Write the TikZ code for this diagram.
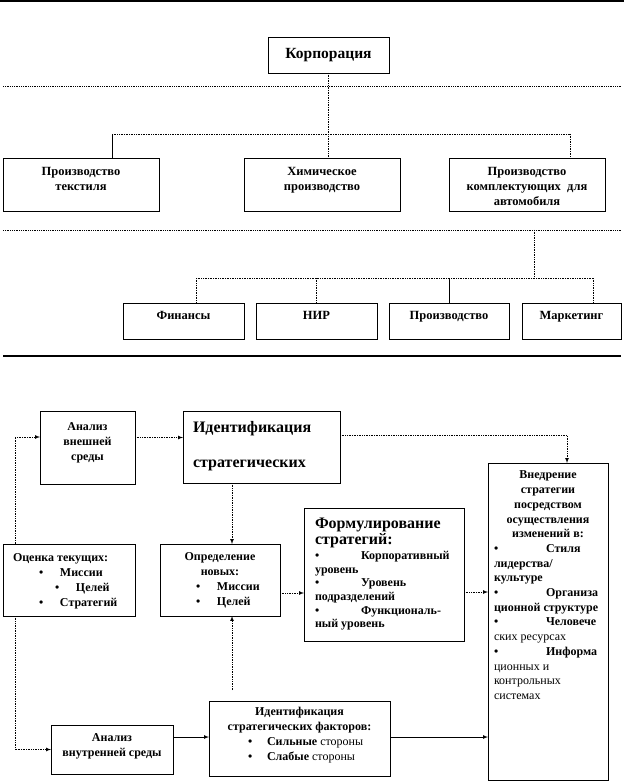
\documentclass[tikz,border=0pt]{standalone}
\usepackage{fontspec}
\setmainfont{Liberation Serif}
\usepackage{tikz}
\usetikzlibrary{shapes,arrows,calc}

% box text: height, width, alignment, top pad, lines
\newcommand{\celltext}[5]{\parbox[c][#1][t]{#2}{#3\vspace*{#4}\strut#5}}
\newcommand{\bul}[1]{\makebox[#1][l]{•}}

\begin{document}
\begin{tikzpicture}[y=1pt, x=1pt, yscale=-1, inner sep=0pt, outer sep=0pt, >=latex,
  unit/.style={draw=black, line width=0.8pt, rectangle, anchor=north west,
    font=\bfseries\fontsize{12.5}{15}\selectfont},
  stage/.style={draw=black, line width=0.8pt, rectangle, anchor=north west,
    font=\bfseries\fontsize{12}{14.7}\selectfont},
  dotlink/.style={draw=black, line width=0.7pt, densely dotted},
  solidlink/.style={draw=black, line width=0.7pt},
  rule/.style={draw=black, line width=0.8pt, densely dotted}]
\useasboundingbox (0,0) rectangle (624,783);

% separators
\path[draw=black, line width=1.6pt] (0,1) -- (624,1);
\path[rule] (3,86) -- (621,86);
\path[rule] (3,230) -- (621,230);
\path[draw=black, line width=1.2pt] (3,356) -- (621,356);

% corporation
\node[unit, minimum width=121pt, minimum height=36pt,
  font=\bfseries\fontsize{15.5}{17}\selectfont] (corp) at (268,37) {Корпорация};
\node[unit] (textile) at (3,158) {\celltext{53pt}{156pt}{\centering}{7.5pt}{Производство\\ текстиля}};
\node[unit] (chem) at (244,158) {\celltext{53pt}{156pt}{\centering}{7.5pt}{Химическое\\ производство}};
\node[unit] (auto) at (449,158) {\celltext{53pt}{156pt}{\centering}{7.5pt}{Производство\\ комплектующих \ для\\ автомобиля}};

\path[dotlink] (corp.south) -- (corp.south |- chem.north);
\coordinate (tapL) at (112,134);
\coordinate (tapR) at (570,134);
\path[dotlink] (tapL) -- (tapR);
\path[solidlink] (tapL) -- (tapL |- textile.north);
\path[dotlink] (tapR) -- (tapR |- auto.north);

% functions
\node[unit] (fin) at (123,303) {\celltext{36pt}{121pt}{\centering}{5.5pt}{Финансы}};
\node[unit] (nir) at (256,303) {\celltext{36pt}{121pt}{\centering}{5.5pt}{НИР}};
\node[unit] (prod) at (389,303) {\celltext{36pt}{120pt}{\centering}{5.5pt}{Производство}};
\node[unit] (mark) at (522,303) {\celltext{36pt}{99pt}{\centering}{5.5pt}{Маркетинг}};

\coordinate (drop) at (534,230);
\coordinate (tapF) at (196,278);
\coordinate (tapM) at (593,278);
\path[dotlink] (drop) -- (drop |- tapF);
\path[dotlink] (tapF) -- (tapM);
\path[dotlink] (tapF) -- (tapF |- fin.north);
\path[dotlink] (nir.north |- tapF) -- (nir.north);
\path[solidlink] (prod.north |- tapF) -- (prod.north);
\path[dotlink] (tapM) -- (tapM |- mark.north);

% strategy process
\node[stage, font=\bfseries\fontsize{12}{15}\selectfont] (extA) at (40,411)
  {\celltext{73pt}{95pt}{\centering}{8.5pt}{Анализ\\ внешней\\ среды}};
\node[stage, inner xsep=10pt, font=\bfseries\fontsize{16}{17.5}\selectfont] (identA) at (183,411)
  {\celltext{72pt}{137pt}{\raggedright}{9.7pt}{Идентификация\\[17.5pt] стратегических}};
\node[stage, inner xsep=10pt] (evalC) at (3,544)
  {\celltext{72pt}{112pt}{\raggedright}{7.7pt}{Оценка текущих:\\
   \hspace*{26pt}\bul{21pt}Миссии\\ \hspace*{42pt}\bul{21pt}Целей\\ \hspace*{26pt}\bul{21pt}Стратегий}};
\node[stage] (defN) at (160,544)
  {\celltext{72pt}{120pt}{\centering}{6.7pt}{Определение\\ новых:\par\raggedright
   \hspace*{36pt}\bul{21pt}Миссии\\ \hspace*{36pt}\bul{21pt}Целей}};
\node[stage, inner xsep=11pt, font=\bfseries\fontsize{16}{16}\selectfont] (form) at (304,508)
  {\celltext{133pt}{138pt}{\raggedright}{8.8pt}{Формулирование\\ стратегий:\par
   \vspace{2pt}\fontsize{12}{13.6}\selectfont
   \bul{46pt}Корпоративный\\ уровень\\ \bul{46pt}Уровень\\ подразделений\\
   \bul{46pt}Функциональ-\\ ный уровень}};
\node[stage, inner xsep=6pt] (impl) at (488,463)
  {\celltext{317pt}{108pt}{\centering}{5.7pt}{Внедрение\\ стратегии\\ посредством\\
   осуществления\\ изменений в:\par\raggedright
   \bul{52pt}Стиля\\ лидерства/\\ культуре\\ \bul{52pt}Организа\\ ционной структуре\\
   \bul{52pt}Человече\\ {\mdseries ских ресурсах}\\ \bul{52pt}Информа\\
   {\mdseries ционных и\\ контрольных\\ системах}}};
\node[stage] (intA) at (51,725)
  {\celltext{49pt}{122pt}{\centering}{6.7pt}{Анализ\\ внутренней среды}};
\node[stage] (factors) at (209,701)
  {\celltext{75pt}{181pt}{\centering}{4.7pt}{Идентификация\\ стратегических факторов:\par\raggedright
   \hspace*{39pt}\bul{19pt}Сильные {\mdseries стороны}\\ \hspace*{39pt}\bul{19pt}Слабые {\mdseries стороны}}};

\path[dotlink,->] ($(extA.east)+(0,-10)$) coordinate (p0) -- (p0 -| identA.west);
\path[dotlink,->] ($(identA.east)+(0,-12)$) -| ($(impl.north)+(19,0)$);
\path[dotlink,->] ($(identA.south)+(-29.5,0)$) coordinate (p2) -- (p2 |- defN.north);
\path[dotlink,->] ($(defN.east)+(0,13)$) coordinate (p3) -- (p3 -| form.west);
\path[dotlink,->] ($(form.east)+(0,17.5)$) coordinate (p4) -- (p4 -| impl.west);
\path[dotlink,->] ($(factors.north)+(-67.5,-11)$) coordinate (p5) -- (p5 |- defN.south);
\path[dotlink,->] ($(evalC.north)+(-54,0)$) |- ($(extA.west)+(0,-10.5)$);
\path[dotlink,->] ($(evalC.south)+(-54,0)$) |- (intA.west);
\path[solidlink,->] ($(intA.east)+(0,-12.5)$) coordinate (p6) -- (p6 -| factors.west);
\path[solidlink,->] (p6 -| factors.east) -- (p6 -| impl.west);

\end{tikzpicture}
\end{document}
